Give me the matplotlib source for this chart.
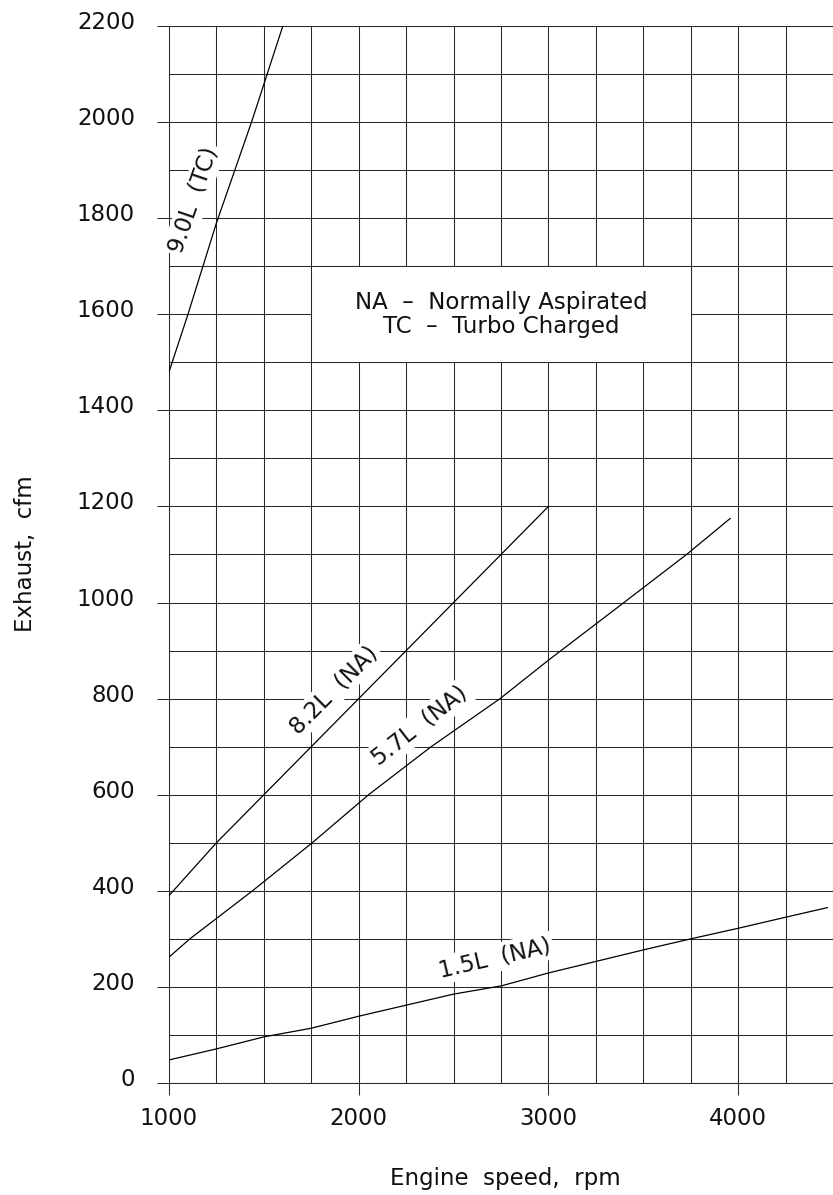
import matplotlib
matplotlib.use('Agg')
import matplotlib.pyplot as plt
import matplotlib.transforms as mtransforms
import numpy as np

# data (engine speed rpm, exhaust cfm)
rpm_90 = [1000, 1100, 1250, 1435, 1600]
cfm_90 = [1480, 1600, 1790, 2000, 2200]

rpm_82 = [1000, 1250, 1500, 1750, 2000, 2250, 2500, 2750, 3000]
cfm_82 = [390, 500, 600, 700, 800, 900, 1000, 1100, 1200]

rpm_57 = [1000, 1110, 1440, 1755, 2052, 2382, 2745, 3000, 3398, 3728, 3958]
cfm_57 = [262, 300, 400, 500, 600, 700, 800, 880, 1000, 1100, 1175]

rpm_15 = [1000, 1250, 1500, 1750, 2000, 2250, 2500, 2750, 3000, 3250, 3500,
          3750, 4000, 4250, 4470]
cfm_15 = [48, 71, 96, 114, 139, 162, 185, 202, 229, 253, 277, 300, 322, 345, 365]

x_ticks = [1000, 2000, 3000, 4000]
y_ticks = list(range(0, 2201, 200))

FONT = 'DejaVu Sans'
FS = 16.5
TXT = '#111111'
GRID = '#2a2a2a'

fig = plt.figure(figsize=(8.33, 11.95), dpi=100)
ax = fig.add_axes([169 / 833, 1 - 1083 / 1195, (833 - 169) / 833, (1083 - 26) / 1195])
ax.set_xlim(1000, 4471)
ax.set_ylim(0, 2200)

# grid every 250 rpm / 100 cfm
ax.set_xticks(x_ticks)
ax.set_xticks(np.arange(1000, 4501, 250), minor=True)
ax.set_yticks(y_ticks)
ax.set_yticks(np.arange(0, 2201, 100), minor=True)
ax.grid(which='both', color=GRID, linewidth=0.75, zorder=1)
ax.set_axisbelow(True)

ax.spines['right'].set_visible(False)
for s in ['left', 'top', 'bottom']:
    ax.spines[s].set_linewidth(0.75)
    ax.spines[s].set_color(GRID)

ax.tick_params(which='major', direction='out', length=8.5, width=0.75, color=GRID,
               labelsize=FS, labelcolor=TXT, pad=9)
ax.tick_params(axis='y', which='major', pad=16)
ax.tick_params(which='minor', length=0)
ax.set_xticklabels([str(v) for v in x_ticks], fontfamily=FONT)
ax.set_yticklabels([str(v) for v in y_ticks], fontfamily=FONT)
shift = mtransforms.ScaledTranslation(0, 6 / 100, fig.dpi_scale_trans)
for lab in ax.get_yticklabels():
    lab.set_transform(lab.get_transform() + shift)

# curves
for xs, ys in [(rpm_90, cfm_90), (rpm_82, cfm_82), (rpm_57, cfm_57), (rpm_15, cfm_15)]:
    ax.plot(xs, ys, color='black', linewidth=0.9, zorder=4)

# curve labels with white background to break the grid
box = dict(facecolor='white', edgecolor='none', pad=2)
kw = dict(ha='center', va='center', fontsize=FS, fontfamily=FONT, color=TXT,
          bbox=box, zorder=3)
ax.text(1130, 1838, '9.0L  (TC)', rotation=71, **kw)
ax.text(1868, 818, '8.2L  (NA)', rotation=45, **kw)
ax.text(2322, 744, '5.7L  (NA)', rotation=38, **kw)
ax.text(2715, 260, '1.5L  (NA)', rotation=13, **kw)

# key box
rect = plt.Rectangle((1750, 1500), 2000, 200, facecolor='white', edgecolor=GRID,
                     linewidth=0.75, zorder=2)
ax.add_patch(rect)
ax.text(2750, 1600, 'NA  \u2013  Normally Aspirated\nTC  \u2013  Turbo Charged',
        ha='center', va='center', fontsize=FS, fontfamily=FONT, color=TXT, zorder=3,
        linespacing=1.05)

fig.text(26 / 833, 1 - 554 / 1195, 'Exhaust,  cfm', rotation=90, ha='center',
         va='center', fontsize=FS, fontfamily=FONT, color=TXT)
fig.text(505 / 833, 1 - 1178 / 1195, 'Engine  speed,  rpm', ha='center',
         va='center', fontsize=FS, fontfamily=FONT, color=TXT)

fig.savefig('out.png', dpi=100, facecolor='white')
